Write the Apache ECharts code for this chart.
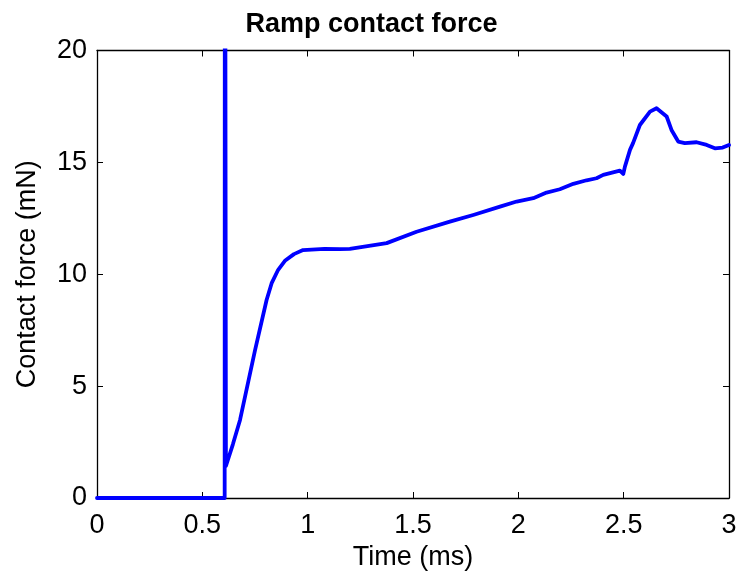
<!DOCTYPE html>
<html>
<head>
<meta charset="utf-8">
<script src="https://cdn.jsdelivr.net/npm/echarts@6/dist/echarts.min.js"></script>
<style>
html,body{margin:0;padding:0;background:#fff;}
#chart{width:743px;height:579px;}
</style>
</head>
<body>
<div id="chart"></div>
<script>
var titleText = 'Ramp contact force';
var xName = 'Time (ms)';
var yName = 'Contact force (mN)';
var xTicks = [0, 0.5, 1, 1.5, 2, 2.5, 3];
var yTicks = [0, 5, 10, 15, 20];
var times = [0, 0.606, 0.607, 0.612, 0.617, 0.645, 0.679, 0.75, 0.805, 0.829, 0.86, 0.892, 0.935, 0.978, 1.08, 1.153, 1.2, 1.375, 1.517, 1.675, 1.786, 1.913, 1.992, 2.071, 2.134, 2.197, 2.261, 2.324, 2.371, 2.403, 2.482, 2.498, 2.506, 2.53, 2.545, 2.577, 2.625, 2.656, 2.704, 2.727, 2.759, 2.79, 2.846, 2.894, 2.933, 2.97, 3.0];
var forces = [0, 0, 40, 1.43, 1.43, 2.4, 3.49, 6.6, 8.85, 9.6, 10.2, 10.6, 10.9, 11.08, 11.13, 11.12, 11.13, 11.39, 11.9, 12.35, 12.65, 13.02, 13.25, 13.4, 13.65, 13.8, 14.04, 14.2, 14.29, 14.44, 14.63, 14.48, 14.81, 15.56, 15.87, 16.67, 17.27, 17.42, 17.05, 16.45, 15.93, 15.86, 15.9, 15.78, 15.63, 15.66, 15.78];

var FONT = '"Liberation Sans", Arial, Helvetica, sans-serif';
var data = times.map(function (t, i) { return [t, forces[i]]; });
var xMin = xTicks[0], xMax = xTicks[xTicks.length - 1], xInt = xTicks[1] - xTicks[0];
var yMin = yTicks[0], yMax = yTicks[yTicks.length - 1], yInt = yTicks[1] - yTicks[0];

function axisBase(show) {
  return {
    type: 'value',
    axisLine: { show: true, onZero: false, lineStyle: { color: '#000', width: 1.3 } },
    axisTick: { show: true, inside: true, length: 6, lineStyle: { color: '#000', width: 1 } },
    splitLine: { show: false },
    axisLabel: { show: show, color: '#000', fontSize: 27, fontFamily: FONT }
  };
}
var xBottom = Object.assign(axisBase(true), {
  position: 'bottom', min: xMin, max: xMax, interval: xInt,
  name: xName, nameLocation: 'middle', nameGap: 46,
  nameTextStyle: { color: '#000', fontSize: 27, fontFamily: FONT }
});
xBottom.axisLabel.margin = 14;
var xTop = Object.assign(axisBase(false), { position: 'top', min: xMin, max: xMax, interval: xInt });
var yLeft = Object.assign(axisBase(true), {
  position: 'left', min: yMin, max: yMax, interval: yInt,
  name: yName, nameLocation: 'middle', nameGap: 56,
  nameTextStyle: { color: '#000', fontSize: 27, fontFamily: FONT }
});
yLeft.axisLabel.margin = 10;
var yRight = Object.assign(axisBase(false), { position: 'right', min: yMin, max: yMax, interval: yInt });

var chart = echarts.init(document.getElementById('chart'), null, { renderer: 'canvas' });
chart.setOption({
  backgroundColor: '#fff',
  animation: false,
  title: {
    text: titleText, left: 'center', top: 6,
    textStyle: { color: '#000', fontSize: 27, fontWeight: 'bold', fontFamily: FONT }
  },
  grid: { left: 97, right: 14, top: 50.5, bottom: 81, containLabel: false },
  xAxis: [xBottom, xTop],
  yAxis: [yLeft, yRight],
  series: [{
    type: 'line', xAxisIndex: 0, yAxisIndex: 0, data: data,
    showSymbol: false, symbol: 'none', clip: true,
    lineStyle: { color: '#0000ff', width: 3.8, join: 'round', cap: 'round' }
  }]
});
</script>
</body>
</html>
